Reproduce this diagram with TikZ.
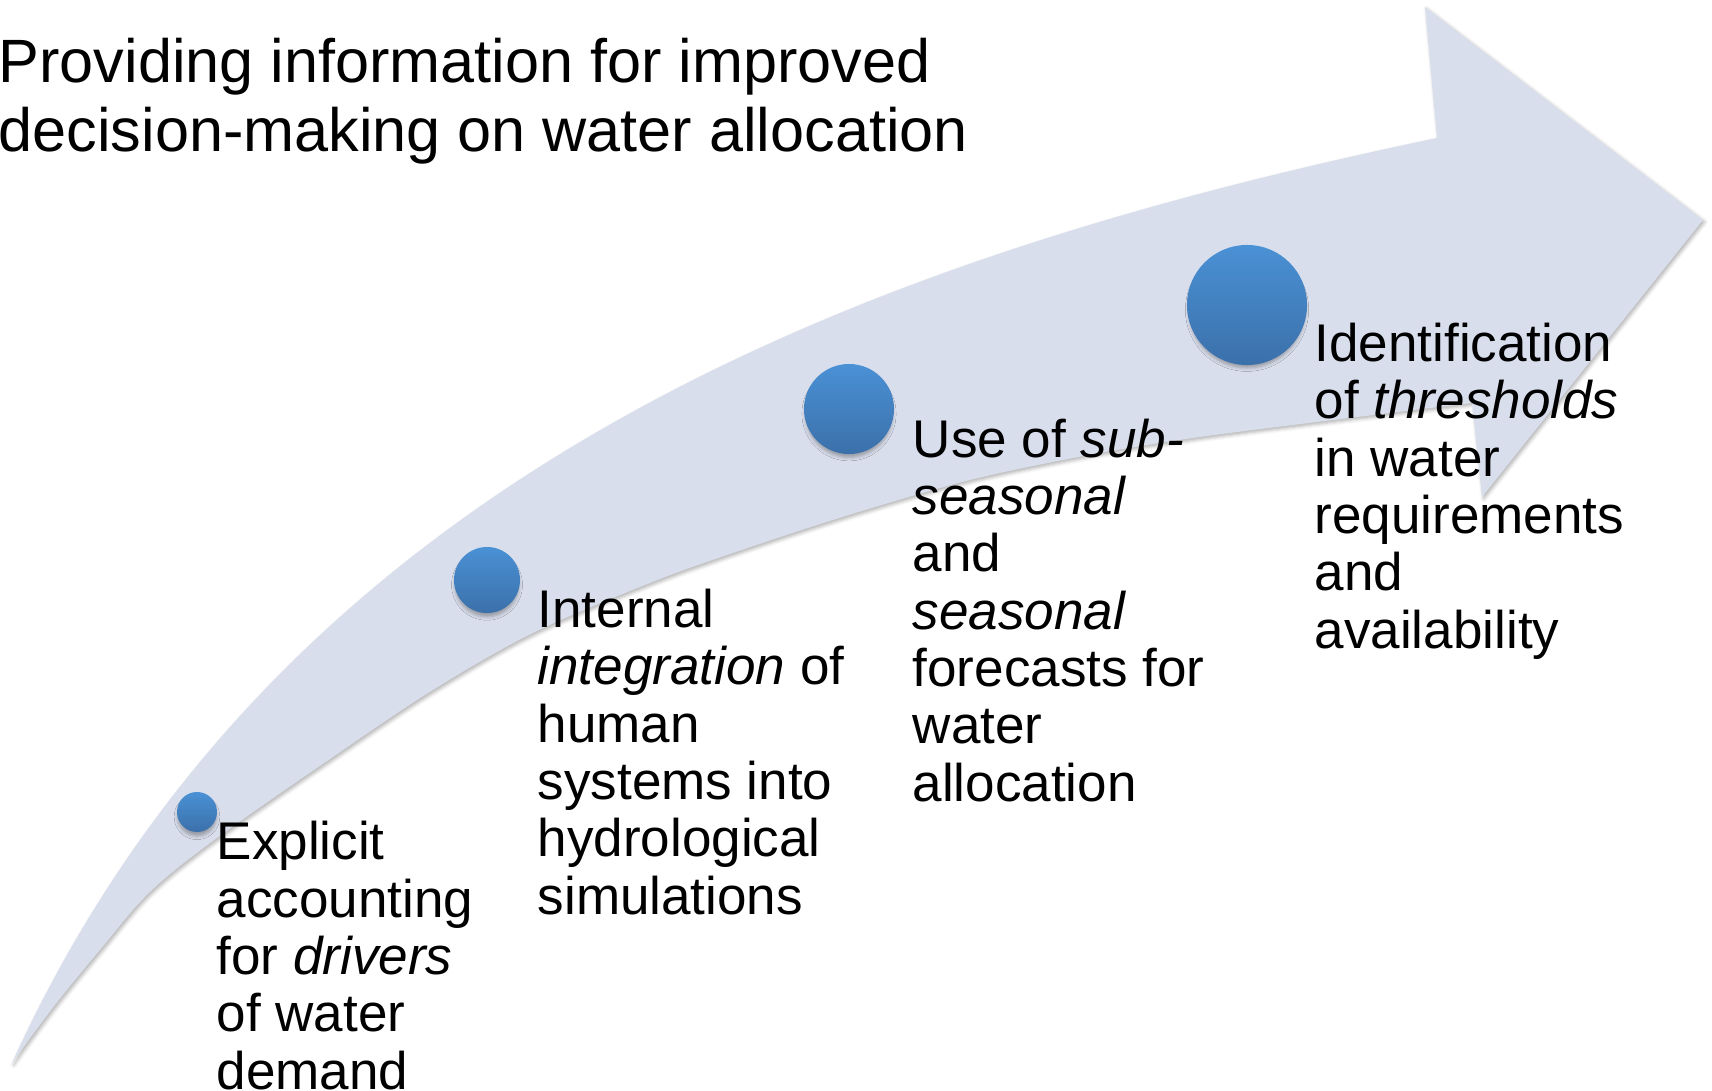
\documentclass[tikz,border=0pt]{standalone}
\usepackage{fontspec}
\setmainfont{Liberation Sans}
\usetikzlibrary{shadows.blur}

\definecolor{bandfill}{HTML}{D9DEEC}
\definecolor{dottop}{HTML}{4A91D5}
\definecolor{dotbottom}{HTML}{3B70AA}

\tikzset{
  band/.style={fill=bandfill,
    blur shadow={shadow xshift=0.5pt, shadow yshift=-0.6pt,
                 shadow blur radius=1pt, shadow opacity=30}},
  dot/.style={circle, inner sep=0pt, top color=dottop, bottom color=dotbottom,
    blur shadow={shadow xshift=0pt, shadow yshift=-1.4pt, shadow scale=0.97,
                 shadow blur radius=1pt, shadow opacity=30}},
  % multi-line nodes: the base anchor sits on the last line
  headline/.style={anchor=base west, inner sep=0pt, align=left,
    font=\fontsize{17.4}{19.63}\selectfont},
  steptext/.style={anchor=base west, inner sep=0pt, align=left,
    font=\fontsize{15.08}{16.3}\selectfont}
}

\begin{document}
\begin{tikzpicture}[x=0.01cm, y=-0.01cm]
\useasboundingbox (0,0) rectangle (1712,1091);

% curved arrow body with its head
\fill[band] (12,1063)
  .. controls (287,458) and (897,251) .. (1437,138)
  -- (1425,7) -- (1703,220) -- (1482,497) -- (1472,403)
  -- plot[smooth, tension=0.55] coordinates {(1472,403) (1333,420) (1200,437)
       (1100,453) (1000,473) (933,490) (833,520) (733,553) (650,583) (533,633)
       (433,690) (333,757) (217,838) (150,892) (100,950) (55,1005) (12,1063)}
  -- cycle;

% title
\node[headline] (title) at (-2,152)
  {Providing information for improved\\decision-making on water allocation};

% milestones along the arrow
\node[dot, minimum size=0.40cm] (m1) at (197,812) {};
\node[dot, minimum size=0.66cm] (m2) at (487,580) {};
\node[dot, minimum size=0.90cm] (m3) at (849,409) {};
\node[dot, minimum size=1.20cm] (m4) at (1247,305) {};

% milestone descriptions
\node[steptext] (t1) at (216,1089)
  {Explicit\\accounting\\for \textit{drivers}\\of water\\demand};
\node[steptext] (t2) at (537,914)
  {Internal\\\textit{integration} of\\human\\systems into\\hydrological\\simulations};
\node[steptext] (t3) at (912,801)
  {Use of \textit{sub-}\\\textit{seasonal}\\and\\\textit{seasonal}\\forecasts for\\water\\allocation};
\node[steptext] (t4) at (1314,648)
  {Identification\\of \textit{thresholds}\\in water\\requirements\\and\\availability};
\end{tikzpicture}
\end{document}
